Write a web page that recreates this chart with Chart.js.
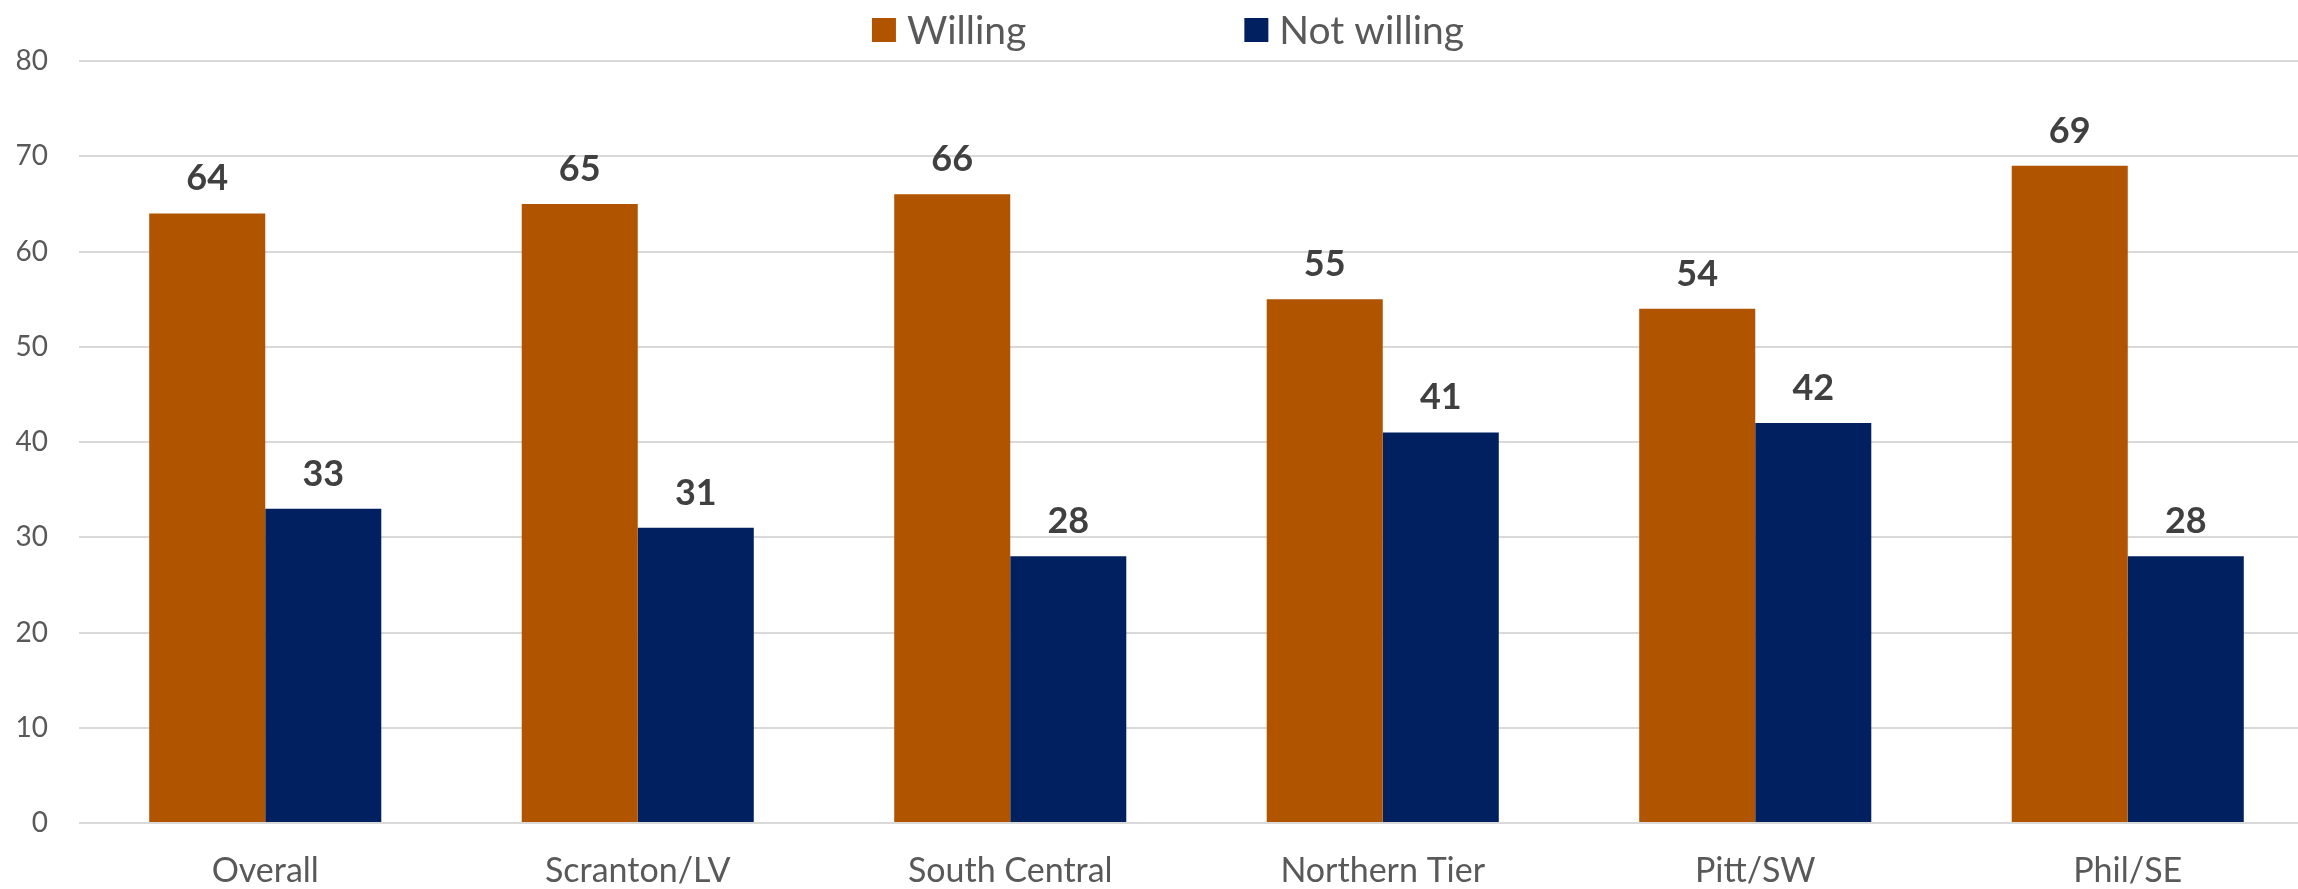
<!DOCTYPE html>
<html>
<head>
<meta charset="utf-8">
<script src="https://cdn.jsdelivr.net/npm/chart.js@4"></script>
<style>
  html, body { margin: 0; padding: 0; background: #fff; overflow: hidden; }
  #wrap { position: relative; width: 2314px; height: 889px; }
</style>
</head>
<body>
<div id="wrap"><canvas id="willingChart"></canvas></div>
<script>
const categories = ['Overall', 'Scranton/LV', 'South Central', 'Northern Tier', 'Pitt/SW', 'Phil/SE'];
const willing = [64, 65, 66, 55, 54, 69];
const notWilling = [33, 31, 28, 41, 42, 28];
const seriesNames = ['Willing', 'Not willing'];
const seriesColors = ['#B05400', '#002060'];

const FONT = 'Lato, "Open Sans", sans-serif';

// value labels above each bar
const barLabels = {
  id: 'barLabels',
  afterDatasetsDraw(chart) {
    const ctx = chart.ctx;
    ctx.save();
    ctx.font = 'bold 36px ' + FONT;
    ctx.fillStyle = '#404040';
    ctx.textAlign = 'center';
    ctx.textBaseline = 'alphabetic';
    chart.data.datasets.forEach((ds, i) => {
      chart.getDatasetMeta(i).data.forEach((bar, j) => {
        ctx.fillText(ds.data[j], bar.x, bar.y - 23);
      });
    });
    ctx.restore();
  }
};

// legend row drawn like the original (wide gap between items)
const legendRow = {
  id: 'legendRow',
  afterDraw(chart) {
    const ctx = chart.ctx;
    const box = 24, textGap = 11, itemGap = 218, centerX = 1168, midY = 30;
    ctx.save();
    ctx.font = '39px ' + FONT;
    ctx.textBaseline = 'middle';
    ctx.textAlign = 'left';
    const items = chart.data.datasets.map(ds => ({
      text: ds.label, color: ds.backgroundColor,
      w: box + textGap + ctx.measureText(ds.label).width
    }));
    const total = items.reduce((s, it) => s + it.w, 0) + itemGap * (items.length - 1);
    let x = centerX - total / 2;
    items.forEach(it => {
      ctx.fillStyle = it.color;
      ctx.fillRect(x, midY - box / 2, box, box);
      ctx.fillStyle = '#595959';
      ctx.fillText(it.text, x + box + textGap, midY + 1);
      x += it.w + itemGap;
    });
    ctx.restore();
  }
};

const chart = new Chart(document.getElementById('willingChart'), {
  type: 'bar',
  data: {
    labels: categories,
    datasets: [
      { label: seriesNames[0], data: willing, backgroundColor: seriesColors[0] },
      { label: seriesNames[1], data: notWilling, backgroundColor: seriesColors[1] }
    ]
  },
  options: {
    responsive: true,
    maintainAspectRatio: false,
    animation: false,
    layout: { padding: { top: 61, left: 0, right: 0, bottom: 0 } },
    datasets: {
      bar: { categoryPercentage: 0.623, barPercentage: 1.0, borderWidth: 0 }
    },
    plugins: {
      legend: { display: false },
      tooltip: { enabled: false }
    },
    scales: {
      x: {
        grid: { display: false, drawTicks: false },
        border: { display: false },
        ticks: {
          color: '#595959',
          font: { family: FONT, size: 34 },
          padding: 28,
          maxRotation: 0
        },
        afterFit(scale) { scale.height = 66; }
      },
      y: {
        min: 0,
        max: 80,
        grid: { color: '#d9d9d9', lineWidth: 2, drawTicks: false },
        border: { display: false },
        ticks: {
          stepSize: 10,
          color: '#595959',
          font: { family: FONT, size: 28 },
          padding: 31
        },
        afterFit(scale) { scale.width = 79; }
      }
    }
  },
  plugins: [barLabels, legendRow]
});
</script>
</body>
</html>
